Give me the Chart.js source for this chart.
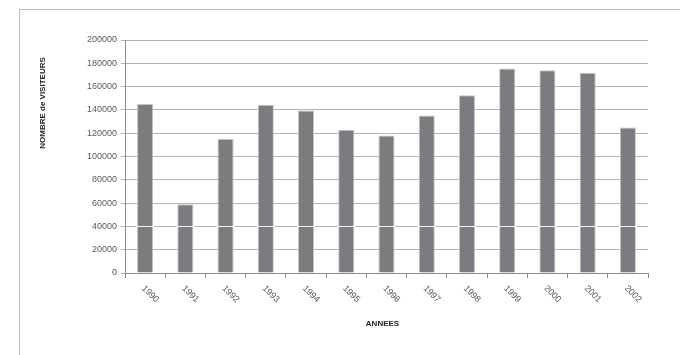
<!DOCTYPE html>
<html>
<head>
<meta charset="utf-8">
<script src="https://cdn.jsdelivr.net/npm/chart.js@4/dist/chart.umd.min.js"></script>
<style>
  html, body { margin: 0; padding: 0; background: #fff; overflow: hidden; }
  #frame { position: absolute; left: 19px; top: 9px; width: 900px; height: 600px;
           border-left: 1px solid #bdbdbd; border-top: 1px solid #bdbdbd; }
  #wrap { position: absolute; left: 0; top: 0; width: 680px; height: 355px; }
</style>
</head>
<body>
<div id="frame"></div>
<div id="wrap"><canvas id="c" width="680" height="355"></canvas></div>
<script>
// ---- data ----
const categories = ["1990","1991","1992","1993","1994","1995","1996","1997","1998","1999","2000","2001","2002"];
const visiteurs = [145000, 59000, 115000, 144500, 139500, 123000, 118000, 135300, 152500, 175500, 174000, 171800, 125000];
const yTicks = [0, 20000, 40000, 60000, 80000, 100000, 120000, 140000, 160000, 180000, 200000];
const yTitle = "NOMBRE de VISITEURS";
const xTitle = "ANNEES";

const textFont = "Liberation Sans";

const decorPlugin = {
  id: 'decor',
  afterDatasetsDraw(chart) {
    // light line across the bars at the 40000 level, as in the scanned reference
    const ys = chart.scales.y;
    const ctx = chart.ctx;
    const yy = Math.round(ys.getPixelForValue(yTicks[2])) + 0.5;
    ctx.save();
    ctx.strokeStyle = '#f4f4f4';
    ctx.lineWidth = 1;
    chart.getDatasetMeta(0).data.forEach(bar => {
      const w = bar.width;
      ctx.beginPath();
      ctx.moveTo(bar.x - w / 2 - 1, yy);
      ctx.lineTo(bar.x + w / 2 + 1, yy);
      ctx.stroke();
    });
    ctx.restore();
  },
  afterDraw(chart) {
    const ctx = chart.ctx;
    const xs = chart.scales.x;
    const area = chart.chartArea;
    ctx.save();
    // rotated category labels
    ctx.fillStyle = '#595959';
    ctx.font = '9px "' + textFont + '"';
    ctx.textAlign = 'left';
    ctx.textBaseline = 'middle';
    categories.forEach((lab, i) => {
      const px = xs.getPixelForTick(i);
      ctx.save();
      ctx.translate(px - 2, xs.top + 14);
      ctx.rotate(Math.PI / 4);
      ctx.fillText(lab, 0, 0);
      ctx.restore();
    });
    // axis titles
    ctx.fillStyle = '#262626';
    ctx.font = 'bold 8px "' + textFont + '"';
    ctx.textAlign = 'center';
    ctx.textBaseline = 'middle';
    ctx.save();
    ctx.translate(43, area.top + 63);
    ctx.rotate(-Math.PI / 2);
    ctx.fillText(yTitle, 0, 0);
    ctx.restore();
    ctx.fillText(xTitle, (area.left + area.right) / 2 - 4, 324);
    ctx.restore();
  }
};

new Chart(document.getElementById('c'), {
  type: 'bar',
  data: {
    labels: categories,
    datasets: [{
      data: visiteurs,
      backgroundColor: '#7b7b80',
      borderColor: '#c4c4c6',
      borderWidth: { left: 1, right: 1, top: 1, bottom: 0 },
      borderSkipped: 'bottom',
      categoryPercentage: 1.0,
      barPercentage: 0.4
    }]
  },
  options: {
    responsive: false,
    animation: false,
    devicePixelRatio: 1,
    layout: { padding: { left: 0, top: 40, right: 32, bottom: 0 } },
    plugins: { legend: { display: false }, tooltip: { enabled: false }, title: { display: false } },
    scales: {
      x: {
        offset: true,
        grid: { display: true, drawOnChartArea: false, drawTicks: true, tickLength: 5, color: '#8c8c8c', offset: true },
        border: { display: true, color: '#8c8c8c', width: 1 },
        ticks: { display: false },
        afterFit(scale) { scale.height = 82; }
      },
      y: {
        min: 0,
        max: 200000,
        afterBuildTicks(scale) { scale.ticks = yTicks.map(v => ({ value: v })); },
        grid: { color: '#b4b4b4', drawTicks: true, tickLength: 4, lineWidth: 1 },
        border: { display: true, color: '#8c8c8c', width: 1 },
        ticks: {
          color: '#595959',
          padding: 4,
          font: { family: textFont, size: 9 },
          callback: (v) => String(v)
        },
        afterFit(scale) { scale.width = 125; }
      }
    }
  },
  plugins: [decorPlugin]
});
</script>
</body>
</html>
